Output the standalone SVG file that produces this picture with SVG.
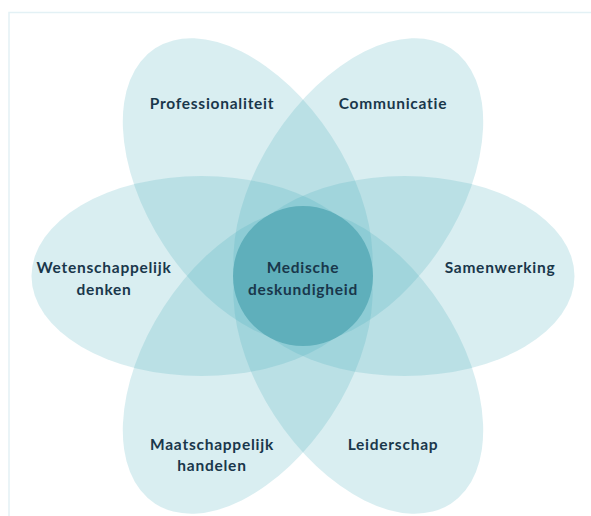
<svg xmlns="http://www.w3.org/2000/svg" width="591" height="516" viewBox="0 0 591 516">
  <style>
    .frame { fill: none; stroke: #e3f1f5; stroke-width: 1.5; }
    .petal ellipse { fill: #41aab9; fill-opacity: 0.2; }
    .core circle { fill: #5fafbb; }
    text { font-family: Lato, "Open Sans", "Liberation Sans", sans-serif; font-weight: 700; font-size: 15.5px; fill: #19374b; text-anchor: middle; letter-spacing: 0.75px; }
  </style>
  <rect width="591" height="516" fill="#ffffff"/>
  <path class="frame" d="M9 516 V12.5 H591"/>

  <!-- petals: ellipses pushed out from the hub and turned about it -->
  <g id="petals" transform="translate(303 276)">
    <g id="samenwerking" class="petal"><ellipse transform="rotate(0) translate(101.5 0)" rx="170" ry="100"/></g>
    <g id="communicatie" class="petal"><ellipse transform="rotate(-57) translate(101.5 0)" rx="170" ry="100"/></g>
    <g id="professionaliteit" class="petal"><ellipse transform="rotate(-123) translate(101.5 0)" rx="170" ry="100"/></g>
    <g id="wetenschappelijk-denken" class="petal"><ellipse transform="rotate(180) translate(101.5 0)" rx="170" ry="100"/></g>
    <g id="maatschappelijk-handelen" class="petal"><ellipse transform="rotate(123) translate(101.5 0)" rx="170" ry="100"/></g>
    <g id="leiderschap" class="petal"><ellipse transform="rotate(57) translate(101.5 0)" rx="170" ry="100"/></g>
    <g id="medische-deskundigheid" class="core"><circle r="70"/></g>
  </g>

  <g id="labels">
    <text x="212" y="109">Professionaliteit</text>
    <text x="393" y="109">Communicatie</text>
    <text x="104" y="273">Wetenschappelijk</text>
    <text x="104" y="295">denken</text>
    <text x="500" y="273">Samenwerking</text>
    <text x="303" y="273">Medische</text>
    <text x="303" y="295">deskundigheid</text>
    <text x="212" y="450">Maatschappelijk</text>
    <text x="212" y="471">handelen</text>
    <text x="393" y="450">Leiderschap</text>
  </g>
</svg>
